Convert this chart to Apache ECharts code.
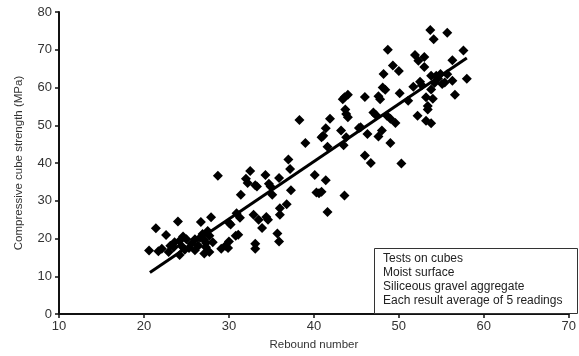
<!DOCTYPE html>
<html>
<head>
<meta charset="utf-8">
<script src="https://cdn.jsdelivr.net/npm/echarts@6/dist/echarts.min.js"></script>
<style>
  html, body { margin: 0; padding: 0; background: #fff; }
  #chart { width: 579px; height: 356px; }
</style>
</head>
<body>
<div id="chart"></div>
<script>
// rebound number vs compressive cube strength (MPa)
const points = [
  [20.6,16.8],[21.4,22.7],[21.7,16.6],[22.1,17.3],[22.6,20.9],[22.9,16.4],[23.1,18.1],[23.5,17.7],
  [23.6,19.0],[24.0,24.5],[24.2,19.4],[24.2,15.6],[24.4,18.1],[24.6,20.5],[24.8,17.0],[25.0,19.8],
  [25.3,17.5],[25.6,18.6],[26.0,19.8],[26.0,16.9],[26.4,18.1],[26.6,20.2],[26.7,24.4],[26.9,21.2],
  [27.1,19.6],[27.1,16.0],[27.3,17.7],[27.3,18.8],[27.5,22.0],[27.7,20.7],[27.7,16.4],[27.9,25.6],
  [28.1,19.0],[28.7,36.6],[29.1,17.3],[29.6,18.1],[29.9,17.5],[30.0,19.2],[30.0,24.2],[30.2,23.7],
  [30.8,20.7],[30.9,26.7],[31.1,21.0],[31.3,25.5],[31.4,31.6],[32.0,35.8],[32.2,34.7],[32.5,37.9],
  [33.1,34.1],[33.3,33.8],[32.9,26.3],[33.1,18.6],[33.1,17.3],[33.5,25.0],[33.9,22.8],[34.3,36.8],
  [34.7,34.5],[34.9,33.8],[34.4,25.7],[34.6,25.0],[35.1,31.6],[35.7,21.3],[35.9,19.2],[35.9,36.0],
  [36.0,28.0],[36.0,26.3],[36.8,29.1],[37.3,32.8],[37.0,40.9],[37.2,38.4],[39.0,45.3],[38.3,51.4],
  [40.1,36.8],[40.3,32.2],[40.6,32.0],[40.9,32.4],[41.4,35.4],[40.9,46.8],[41.1,47.2],[41.6,44.3],
  [41.6,27.0],[41.9,51.7],[41.4,49.2],
  [43.2,48.6],[43.6,31.4],[43.4,56.9],[43.6,57.4],[44.0,58.1],[43.7,54.2],[43.8,53.0],[44.0,52.1],
  [43.8,46.8],[43.5,44.7],[45.3,49.3],[45.5,49.5],[46.0,57.5],[46.3,47.7],[46.0,42.0],[46.7,40.0],
  [47.0,53.4],[47.3,52.7],[47.6,57.7],[47.8,56.9],[47.6,47.0],[48.0,48.6],[48.1,60.0],[48.4,59.4],
  [48.2,63.6],[48.7,70.0],[48.6,52.5],[49.0,45.3],[49.0,51.7],[49.6,50.6],[49.3,65.8],[50.0,64.4],
  [50.1,58.5],[50.3,39.9],
  [51.1,56.5],[51.7,60.2],[51.9,68.6],[52.2,52.5],[52.3,67.1],[52.5,61.5],[52.7,60.6],[53.0,68.1],
  [53.0,65.4],[53.2,57.4],[53.4,55.1],[53.4,54.2],[53.2,51.2],[53.7,75.2],[53.8,63.1],[53.8,59.5],
  [53.8,50.5],[54.0,57.0],[54.1,72.8],[54.2,61.2],[54.4,63.1],[54.6,62.4],[54.9,63.6],[55.1,60.9],
  [55.4,61.3],[55.7,74.5],[55.7,63.5],[56.3,67.2],[56.3,61.8],[56.6,58.1],[57.6,69.8],[58.0,62.3]
];

// fitted line end points
const fitLine = [[20.7, 11.0], [58.0, 67.8]];

const notes = [
  "Tests on cubes",
  "Moist surface",
  "Siliceous gravel aggregate",
  "Each result average of 5 readings"
];

const font = "'Liberation Sans', Arial, sans-serif";

const chart = echarts.init(document.getElementById("chart"));

const options = {
  animation: false,
  grid: {
    left: 59,
    right: 3,
    top: 12,
    bottom: 34,
  },
  xAxis: {
    type: "value",
    min: 10,
    max: 70,
    interval: 10,
    name: "Rebound number",
    nameLocation: "middle",
    nameGap: 25,
    nameTextStyle: { color: "#333", fontSize: 11.5, fontFamily: font },
    axisLine: { show: true, lineStyle: { color: "#111", width: 2 } },
    axisTick: { show: true, length: 4, lineStyle: { color: "#111", width: 1.5 } },
    axisLabel: { color: "#333", fontSize: 13, fontFamily: font, margin: 6 },
    splitLine: { show: false },
  },
  yAxis: {
    type: "value",
    min: 0,
    max: 80,
    interval: 10,
    name: "Compressive cube strength (MPa)",
    nameLocation: "middle",
    nameGap: 34,
    nameTextStyle: { color: "#333", fontSize: 11.5, fontFamily: font },
    axisLine: { show: true, lineStyle: { color: "#111", width: 2 } },
    axisTick: { show: true, length: 4, lineStyle: { color: "#111", width: 1.5 } },
    axisLabel: { color: "#333", fontSize: 13, fontFamily: font, margin: 7 },
    splitLine: { show: false },
  },
  graphic: [
    {
      type: "rect",
      left: 374,
      top: 248,
      shape: { width: 203, height: 65 },
      style: { fill: "#fff", stroke: "#333", lineWidth: 1 },
      z: 10,
    },
    {
      type: "text",
      left: 383,
      top: 252,
      style: {
        text: notes.join("\n"),
        fill: "#222",
        fontSize: 12,
        fontFamily: font,
        lineHeight: 14,
      },
      z: 11,
    },
  ],
  series: [
    {
      type: "scatter",
      data: points,
      symbol: "diamond",
      symbolSize: [10, 10],
      itemStyle: { color: "#000", opacity: 1 },
    },
    {
      type: "line",
      data: fitLine,
      symbol: "none",
      lineStyle: { color: "#000", width: 3 },
      z: 3,
    },
  ],
};

chart.setOption(options);
</script>
</body>
</html>
